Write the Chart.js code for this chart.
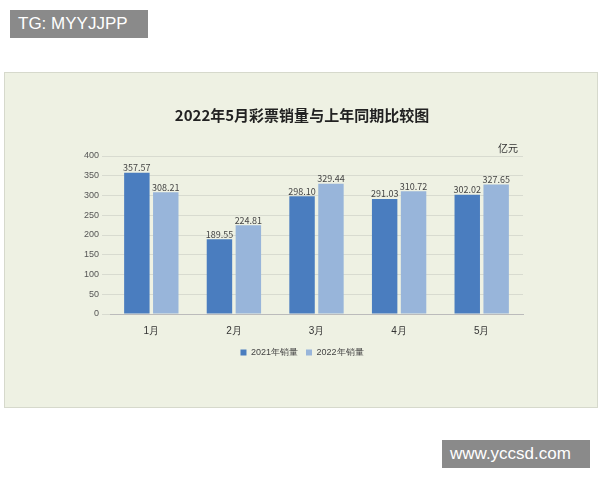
<!DOCTYPE html><html><head><meta charset="utf-8">
<script src="https://cdn.jsdelivr.net/npm/chart.js@4"></script>
<style>
body{margin:0;width:600px;height:480px;background:#fff;position:relative;font-family:"Noto Sans CJK SC",sans-serif;overflow:hidden}
#panel{position:absolute;left:4px;top:72px;width:592px;height:334px;background:#eef1e3;border:1px solid #d6d9cc}
.tag{position:absolute;background:#8a8a8a;color:#fff;font-family:"Liberation Sans",Arial,sans-serif;font-size:17px;line-height:28px;padding:0 8px}
</style></head><body>
<div id="panel"><canvas id="c" width="592" height="334"></canvas></div>
<div class="tag" style="left:10px;top:10px;width:122px">TG: MYYJJPP</div>
<div class="tag" style="left:442px;top:440px;width:132px">www.yccsd.com</div>
<script>
const categories=["1月","2月","3月","4月","5月"];
const sales2021=[357.57,189.55,298.10,291.03,302.02];
const sales2022=[308.21,224.81,329.44,310.72,327.65];
const yTicks=[0,50,100,150,200,250,300,350,400];
const labelPlugin={id:'lbl',afterDatasetsDraw(ch){const x=ch.ctx;x.save();x.font='9px "Noto Sans CJK SC"';x.fillStyle='#444';x.textAlign='center';
ch.data.datasets.forEach((d,i)=>{ch.getDatasetMeta(i).data.forEach((b,j)=>{x.fillText(d.data[j].toFixed(2),b.x,b.y-5);});});
const ya=ch.scales.y;x.font='10px "Noto Sans CJK SC"';x.fillStyle='#333';x.textAlign='right';x.fillText('亿元',ch.chartArea.right-5,ya.top-8);x.restore();}};
new Chart(document.getElementById('c'),{type:'bar',
data:{labels:categories,datasets:[
{label:'2021年销量',data:sales2021,backgroundColor:'#4a7dbf'},
{label:'2022年销量',data:sales2022,backgroundColor:'#98b5da'}]},
options:{responsive:false,animation:false,
layout:{padding:{left:76,right:74,top:0,bottom:40}},
datasets:{bar:{categoryPercentage:0.7,barPercentage:0.88}},
plugins:{title:{display:true,text:'2022年5月彩票销量与上年同期比较图',font:{size:15,weight:'bold',family:'"Noto Sans CJK SC"'},color:'#222',padding:{top:33,bottom:32}},
legend:{position:'bottom',labels:{boxWidth:6,boxHeight:6,font:{size:9},color:'#444',padding:8}},tooltip:{enabled:false}},
scales:{x:{grid:{display:false},border:{color:'#bbb'},ticks:{color:'#333',font:{size:10}}},
y:{min:0,max:400,afterBuildTicks(a){a.ticks=yTicks.map(v=>({value:v}));},grid:{color:'#d8dbd0'},border:{display:false},ticks:{color:'#555',font:{size:9}}}}},
plugins:[labelPlugin]});
</script></body></html>
